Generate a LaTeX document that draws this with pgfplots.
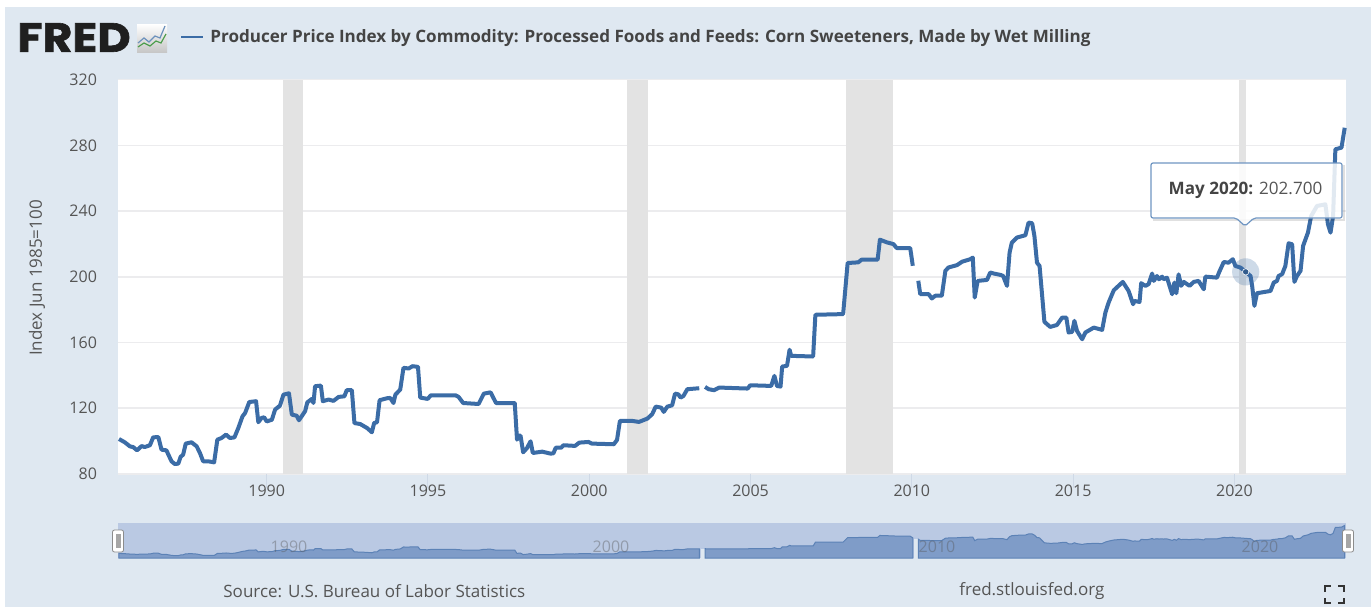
\documentclass[border=0pt]{standalone}
\usepackage{fontspec}
\setmainfont{Open Sans}
\newfontfamily\logofont[BoldFeatures={FakeBold=1.5}]{Poppins}
\usepackage{pgfplots}
\usepackage{pgfplotstable}
\pgfplotsset{compat=1.18}
\definecolor{pagebg}{HTML}{DFE8F1}
\definecolor{gridc}{HTML}{ECECEE}
\definecolor{recess}{HTML}{E3E3E3}
\definecolor{linec}{HTML}{3B6CA6}
\definecolor{textc}{HTML}{555555}
\definecolor{titlec}{HTML}{444444}
\definecolor{tickc}{HTML}{CFD9E6}
\definecolor{navmask}{HTML}{BAC9E3}
\definecolor{navarea}{HTML}{7F9CC8}
\definecolor{navline}{HTML}{5C82B6}
\definecolor{tipb}{HTML}{7096C2}

\pgfplotstableread{
yr val
1985.42 101.3
1985.60 99.3
1985.76 96.8
1985.86 96.4
1985.98 94.4
1986.12 97.0
1986.22 96.4
1986.38 97.5
1986.48 102.3
1986.64 102.5
1986.74 94.8
1986.89 94.4
1987.05 87.7
1987.15 86.1
1987.26 86.3
1987.33 90.4
1987.41 91.8
1987.49 98.5
1987.67 99.3
1987.83 96.8
1987.93 92.8
1988.03 87.7
1988.19 87.7
1988.37 87.1
1988.47 100.9
1988.60 101.9
1988.74 104.0
1988.86 101.9
1989.00 102.3
1989.12 108.0
1989.25 115.1
1989.33 117.1
1989.46 123.8
1989.67 124.3
1989.74 111.5
1989.84 114.1
1989.92 114.5
1990.00 112.0
1990.16 113.0
1990.26 119.2
1990.41 121.6
1990.52 128.3
1990.69 129.1
1990.78 116.1
1990.93 115.5
1991.00 112.7
1991.19 118.2
1991.26 123.6
1991.40 125.7
1991.45 123.2
1991.50 133.4
1991.68 133.8
1991.74 124.3
1991.92 125.3
1992.07 124.5
1992.23 126.9
1992.41 127.3
1992.48 131.0
1992.64 131.0
1992.72 111.0
1992.90 110.4
1993.11 108.0
1993.26 105.4
1993.33 111.0
1993.42 111.5
1993.50 124.9
1993.73 126.1
1993.83 126.3
1993.93 123.2
1993.99 128.3
1994.14 131.4
1994.24 144.6
1994.40 144.2
1994.52 145.6
1994.69 145.2
1994.76 126.5
1994.99 125.7
1995.09 127.9
1995.85 127.9
1995.95 126.9
1996.09 123.2
1996.57 122.6
1996.73 128.9
1996.94 129.7
1997.11 123.2
1997.69 123.2
1997.76 100.9
1997.82 103.3
1997.87 103.3
1997.95 93.2
1998.07 95.8
1998.18 99.9
1998.25 92.8
1998.54 93.6
1998.80 92.4
1998.89 92.6
1998.96 96.0
1999.13 96.0
1999.20 97.5
1999.56 97.1
1999.69 99.1
1999.98 99.5
2000.08 98.5
2000.76 98.1
2000.86 100.7
2000.95 112.3
2001.33 112.3
2001.54 111.7
2001.80 113.7
2001.95 116.4
2002.06 121.0
2002.23 120.4
2002.31 117.8
2002.42 121.0
2002.57 121.8
2002.66 128.9
2002.76 128.5
2002.83 126.5
2002.92 127.5
2003.04 131.6
2003.41 132.2
}\segA
\pgfplotstableread{
yr val
2003.59 133.0
2003.70 131.6
2003.87 131.0
2004.03 132.6
2004.91 132.0
2004.99 134.0
2005.64 133.6
2005.74 139.7
2005.82 133.6
2005.93 133.2
2005.98 145.4
2006.13 145.8
2006.21 155.6
2006.26 151.9
2006.94 151.5
2007.01 176.9
2007.87 177.3
2008.01 208.4
2008.34 208.8
2008.44 210.4
2008.94 210.4
2009.01 222.6
2009.22 221.0
2009.43 219.9
2009.53 217.5
2009.95 217.5
2010.03 206.7
}\segB
\pgfplotstableread{
yr val
2010.20 197.6
2010.26 189.5
2010.52 189.5
2010.62 186.8
2010.73 188.5
2010.93 188.5
2011.04 203.7
2011.14 205.7
2011.40 207.1
2011.56 209.2
2011.81 210.7
2011.89 211.7
2011.95 187.4
2012.04 197.5
2012.33 198.1
2012.43 202.6
2012.54 202.0
2012.76 201.1
2012.83 200.5
2012.95 194.5
2013.03 214.7
2013.10 220.8
2013.26 223.9
2013.52 225.3
2013.62 233.0
2013.73 232.6
2013.80 224.9
2013.88 208.6
2013.96 206.6
2014.11 172.6
2014.29 169.5
2014.50 170.7
2014.66 175.2
2014.79 175.2
2014.86 166.1
2014.97 166.5
2015.04 173.2
2015.12 167.1
2015.28 162.0
2015.38 166.1
2015.64 169.1
2015.90 167.7
2016.00 178.2
2016.10 184.3
2016.26 191.8
2016.54 196.9
2016.72 191.4
2016.86 183.3
2016.90 185.3
2017.06 184.7
2017.11 196.1
2017.24 194.5
2017.34 195.5
2017.45 202.0
2017.50 197.5
2017.60 200.5
2017.66 198.5
2017.76 200.1
2017.80 198.5
2017.91 199.5
2018.07 189.4
2018.14 196.5
2018.20 190.0
2018.27 201.5
2018.35 194.5
2018.43 196.9
2018.61 194.5
2018.74 196.9
2018.89 197.5
2019.05 192.4
2019.10 200.1
2019.46 199.5
2019.52 202.5
2019.67 209.0
2019.82 208.6
2019.95 210.7
2020.03 206.6
2020.19 205.6
2020.35 203.0
2020.50 200.5
2020.55 194.5
2020.62 182.3
2020.70 190.0
2021.12 191.4
2021.22 196.5
2021.32 197.5
2021.37 200.5
2021.48 201.6
2021.58 206.6
2021.68 220.4
2021.79 219.8
2021.86 196.9
2021.94 200.5
2022.05 203.6
2022.13 218.8
2022.28 226.9
2022.38 237.0
2022.56 243.1
2022.82 244.1
2022.90 232.0
2022.98 226.9
2023.06 237.0
2023.13 277.6
2023.32 278.6
2023.42 290.7
}\segC

\begin{document}
\begin{tikzpicture}[x=0.5pt,y=0.5pt]
\path[use as bounding box] (0,0) rectangle (1371,607);
\fill[pagebg] (5,0) rectangle (1371,600);

% logo and icon
\node[anchor=west,inner sep=0pt,text=black!88] at (17,569.5) {\scalebox{1.12}[1]{\logofont\bfseries\fontsize{20.5}{20}\selectfont FRED}};
\shade[top color=white,bottom color=black!22] (137,555) rectangle (167,583);
\draw[linec!75,line width=0.6pt] (138,564)--(144,569)--(149,565)--(155,571)--(160,569)--(165,581);
\draw[green!45!black!70,line width=0.6pt] (138,560)--(144,564)--(150,561)--(156,566)--(161,564)--(166,573);
% legend line and title
\draw[linec,line width=1.2pt] (181,570)--(203,570);
\node[anchor=west,inner sep=0pt,text=titlec] at (210,568.5) {\bfseries\fontsize{8.53}{10}\selectfont Producer Price Index by Commodity: Processed Foods and Feeds: Corn Sweeteners, Made by Wet Milling};

% main chart
\begin{axis}[
  at={(59pt,66.5pt)}, anchor=south west, scale only axis, width=614pt, height=197.2pt,
  xmin=1985.39, xmax=2023.46, ymin=80, ymax=320,
  axis line style={draw=none}, axis background/.style={fill=white},
  xtick={1990,1995,2000,2005,2010,2015,2020}, ytick={80,120,160,200,240,280,320},
  xtick pos=lower, ytick pos=left,
  tick align=outside, major tick length=7pt,
  x tick style={draw=tickc,line width=0.5pt}, y tick style={draw=none},
  ymajorgrids, grid style={gridc,line width=0.8pt},
  /pgf/number format/assume math mode=true, /pgf/number format/1000 sep={},
  ticklabel style={font=\fontsize{8}{10}\selectfont,text=textc},
  xticklabel style={yshift=5pt}, yticklabel style={xshift=0pt},
  clip=false
]
\addplot[fill=recess,draw=none] coordinates {(1990.50,80)(1991.13,80)(1991.13,320)(1990.50,320)} --cycle;
\addplot[fill=recess,draw=none] coordinates {(2001.16,80)(2001.81,80)(2001.81,320)(2001.16,320)} --cycle;
\addplot[fill=recess,draw=none] coordinates {(2007.96,80)(2009.43,80)(2009.43,320)(2007.96,320)} --cycle;
\addplot[fill=recess,draw=none] coordinates {(2020.13,80)(2020.37,80)(2020.37,320)(2020.13,320)} --cycle;
\addplot[linec,line width=2pt,line join=round] table[x=yr,y=val] {\segA};
\addplot[linec,line width=2pt,line join=round] table[x=yr,y=val] {\segB};
\addplot[linec,line width=2pt,line join=round] table[x=yr,y=val] {\segC};
\addplot[only marks,linec,mark=*,mark size=6.8pt,draw opacity=0,fill opacity=0.25] coordinates {(2020.35,203)};
\addplot[only marks,linec,mark=*,mark size=1.6pt,mark options={draw=white,fill=linec!85!black,line width=0.3pt}] coordinates {(2020.35,203)};
\end{axis}

% y axis label
\node[rotate=90,inner sep=0pt,text=textc] at (37,329) {\fontsize{8.5}{10}\selectfont Index Jun 1985=100};

% tooltip
\draw[black,opacity=0.12,line width=1pt] (1153,387.5)--(1343.5,387.5)--(1343.5,442);
\path[fill=white,fill opacity=0.85,draw=tipb,line width=0.6pt,rounded corners=1pt]
  (1151,444)--(1342,444)--(1342,389)--(1254,389)--(1245,381)--(1236,389)--(1151,389)--cycle;
\node[inner sep=0pt,text=textc] at (1245.5,417) {\fontsize{8.55}{10}\selectfont\textbf{\textcolor{titlec}{May 2020:}} 202.700};

% navigator
\fill[navmask] (118,49) rectangle (1346,84);
\begin{axis}[
  at={(59pt,24.5pt)}, anchor=south west, scale only axis, width=614pt, height=17.5pt,
  xmin=1985.39, xmax=2023.46, ymin=70, ymax=307, hide axis
]
\addplot[fill=pagebg,draw=none] coordinates {(2003.45,70)(2003.62,70)(2003.62,133)(2003.45,133)} --cycle;
\addplot[fill=pagebg,draw=none] coordinates {(2010.07,70)(2010.24,70)(2010.24,200)(2010.07,200)} --cycle;
\addplot[fill=navarea,draw=navline,line width=0.5pt] table[x=yr,y=val] {\segA} \closedcycle;
\addplot[fill=navarea,draw=navline,line width=0.5pt] table[x=yr,y=val] {\segB} \closedcycle;
\addplot[fill=navarea,draw=navline,line width=0.5pt] table[x=yr,y=val] {\segC} \closedcycle;
\end{axis}
\foreach \lx/\lab in {289/1990,611/2000,937/2010,1260/2020}
  \node[inner sep=0pt,text=textc,opacity=0.4] at (\lx,60) {\fontsize{8}{10}\selectfont \lab};
% handles
\foreach \hx in {118,1348}{
  \draw[black!45,fill=white,line width=0.4pt,rounded corners=1pt] (\hx-5.5,55) rectangle (\hx+5.5,77);
  \fill[black!35] (\hx-2.5,59) rectangle (\hx+2.5,73);
}

% footer
\node[anchor=west,inner sep=0pt,text=textc] at (223,16) {\fontsize{8.5}{10}\selectfont Source: U.S. Bureau of Labor Statistics};
\node[anchor=west,inner sep=0pt,text=textc] at (959,16) {\fontsize{8.5}{10}\selectfont fred.stlouisfed.org};
\draw[black!80,line width=1pt]
  (1325,15)--(1325,21)--(1331,21) (1338,21)--(1344,21)--(1344,15)
  (1325,9)--(1325,4)--(1331,4) (1338,4)--(1344,4)--(1344,9);
\end{tikzpicture}
\end{document}
